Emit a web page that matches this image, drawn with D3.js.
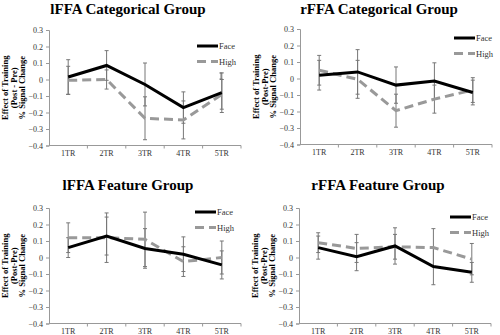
<!DOCTYPE html>
<html>
<head>
<meta charset="utf-8">
<script src="https://cdn.jsdelivr.net/npm/d3@7"></script>
<style>
  body { margin: 0; background: #fff; }
  svg, svg text { font-family: "Liberation Serif", "Times New Roman", serif; }
</style>
</head>
<body>
<svg id="chart" width="500" height="335"></svg>
<script>
var categories = ['1TR', '2TR', '3TR', '4TR', '5TR'];
var yTicks = [0.3, 0.2, 0.1, 0, -0.1, -0.2, -0.3, -0.4];

// lFFA Categorical Group
var lCatFace = [0.015, 0.085, -0.03, -0.17, -0.08];
var lCatFaceErr = [0.105, 0.09, 0.13, 0.095, 0.12];
var lCatHigh = [-0.005, 0.0, -0.235, -0.245, -0.09];
var lCatHighErr = [0.085, 0.058, 0.13, 0.115, 0.09];

// rFFA Categorical Group
var rCatFace = [0.02, 0.04, -0.04, -0.015, -0.085];
var rCatFaceErr = [0.09, 0.135, 0.11, 0.11, 0.075];
var rCatHigh = [0.05, -0.005, -0.195, -0.125, -0.07];
var rCatHighErr = [0.09, 0.115, 0.1, 0.085, 0.075];

// lFFA Feature Group
var lFeatFace = [0.06, 0.13, 0.055, 0.02, -0.045];
var lFeatFaceErr = [0.06, 0.115, 0.12, 0.105, 0.085];
var lFeatHigh = [0.12, 0.12, 0.11, -0.025, 0.0];
var lFeatHighErr = [0.09, 0.15, 0.165, 0.09, 0.1];

// rFFA Feature Group
var rFeatFace = [0.06, 0.005, 0.07, -0.055, -0.09];
var rFeatFaceErr = [0.07, 0.085, 0.11, 0.11, 0.06];
var rFeatHigh = [0.09, 0.055, 0.065, 0.06, -0.01];
var rFeatHighErr = [0.06, 0.085, 0.075, 0.115, 0.095];

var svg = d3.select('#chart');

var panels = [
  { title: 'lFFA Categorical Group', sub: '(Post - Pre)', x: 0, y: 0, top: 30, face: lCatFace, faceErr: lCatFaceErr, high: lCatHigh, highErr: lCatHighErr, legX: 197, legY: 46, errKey: true },
  { title: 'rFFA Categorical Group', sub: '(Post-Pre)', x: 251, y: 0, top: 29, face: rCatFace, faceErr: rCatFaceErr, high: rCatHigh, highErr: rCatHighErr, legX: 454, legY: 38 },
  { title: 'lFFA Feature Group', sub: '(Post-Pre)', x: 0, y: 177, top: 31, face: lFeatFace, faceErr: lFeatFaceErr, high: lFeatHigh, highErr: lFeatHighErr, legX: 195, legY: 212 },
  { title: 'rFFA Feature Group', sub: '(Post-Pre)', x: 250, y: 177, top: 31, face: rFeatFace, faceErr: rFeatFaceErr, high: rFeatHigh, highErr: rFeatHighErr, legX: 450, legY: 217 }
];

panels.forEach(drawPanel);

function drawPanel(p) {
  var g = svg.append('g').attr('transform', 'translate(' + p.x + ',' + p.y + ')');
  var left = 49, right = 241, top = p.top, bottom = top + 115.5;

  var x = d3.scaleBand().domain(categories).range([left, right]);
  var y = d3.scaleLinear().domain([-0.4, 0.3]).range([bottom, top]);

  g.append('text')
    .attr('x', 128).attr('y', p.y === 0 ? 14 : 13)
    .attr('text-anchor', 'middle')
    .style('font-size', '15px').style('font-weight', 'bold')
    .text(p.title);

  // y axis
  var yAxis = g.append('g')
    .attr('transform', 'translate(' + left + ',0)')
    .call(d3.axisLeft(y).tickValues(yTicks).tickSize(3).tickPadding(3)
      .tickFormat(function (d) { return d === 0 ? '0' : d3.format('.1f')(d); }));
  yAxis.attr('font-family', '"Liberation Serif", serif').attr('font-size', 8);
  yAxis.selectAll('text').attr('fill', '#333');
  yAxis.select('.domain').attr('stroke', '#999');
  yAxis.selectAll('.tick line').attr('stroke', '#999');

  // x axis with ticks between categories
  var xAxis = g.append('g').attr('transform', 'translate(0,' + bottom + ')');
  xAxis.append('line').attr('x1', left).attr('x2', right).attr('stroke', '#999');
  xAxis.selectAll('.sep').data(categories).enter().append('line')
    .attr('x1', function (d, i) { return left + x.step() * (i + 1); })
    .attr('x2', function (d, i) { return left + x.step() * (i + 1); })
    .attr('y1', 0).attr('y2', 3).attr('stroke', '#999');
  xAxis.selectAll('.lab').data(categories).enter().append('text')
    .attr('x', function (d) { return x(d) + x.bandwidth() / 2; })
    .attr('y', 10)
    .attr('text-anchor', 'middle')
    .style('font-size', '8px').attr('fill', '#333')
    .text(function (d) { return d; });

  // y label
  var lab = g.append('text')
    .attr('transform', 'translate(' + 16.5 + ',' + ((top + bottom) / 2) + ') rotate(-90)')
    .attr('text-anchor', 'middle')
    .style('font-size', '8.5px').style('font-weight', 'bold');
  lab.append('tspan').attr('x', 0).attr('dy', -8.5).text('Effect of Training');
  lab.append('tspan').attr('x', 0).attr('dy', 8.5).text(p.sub);
  lab.append('tspan').attr('x', 0).attr('dy', 8.5).text('% Signal Change');

  var cx = function (d, i) { return x(categories[i]) + x.bandwidth() / 2; };
  var line = d3.line().x(cx).y(function (d) { return y(d); });

  var series = [
    { vals: p.high, err: p.highErr, color: '#999', dash: '9,5' },
    { vals: p.face, err: p.faceErr, color: '#000', dash: null }
  ];

  // error bars
  series.forEach(function (s) {
    var eb = g.append('g').attr('stroke', '#777').attr('stroke-width', 1);
    s.vals.forEach(function (v, i) {
      var xx = cx(v, i);
      eb.append('line').attr('x1', xx).attr('x2', xx).attr('y1', y(v + s.err[i])).attr('y2', y(v - s.err[i]));
      [v + s.err[i], v - s.err[i]].forEach(function (e) {
        eb.append('line').attr('x1', xx - 2).attr('x2', xx + 2).attr('y1', y(e)).attr('y2', y(e));
      });
    });
  });

  series.forEach(function (s) {
    g.append('path').datum(s.vals)
      .attr('d', line)
      .attr('fill', 'none')
      .attr('stroke', s.color)
      .attr('stroke-width', 3)
      .attr('stroke-dasharray', s.dash);
  });

  // legend
  var lg = svg.append('g');
  var keys = [{ name: 'Face', color: '#000', dash: null }, { name: 'High', color: '#999', dash: '9,5' }];
  keys.forEach(function (k, i) {
    var ly = p.legY + i * 15.5;
    lg.append('line').attr('x1', p.legX).attr('x2', p.legX + 21).attr('y1', ly).attr('y2', ly)
      .attr('stroke', k.color).attr('stroke-width', 3).attr('stroke-dasharray', k.dash);
    lg.append('text').attr('x', p.legX + 22).attr('y', ly + 3)
      .style('font-size', '8.5px').attr('fill', '#333').text(k.name);
  });
  if (p.errKey) {
    var ex = p.legX + 24, ey = p.legY + 30;
    lg.append('line').attr('x1', ex).attr('x2', ex).attr('y1', ey - 3).attr('y2', ey + 3).attr('stroke', '#777');
    lg.append('line').attr('x1', ex - 1.5).attr('x2', ex + 1.5).attr('y1', ey - 3).attr('y2', ey - 3).attr('stroke', '#777');
    lg.append('line').attr('x1', ex - 1.5).attr('x2', ex + 1.5).attr('y1', ey + 3).attr('y2', ey + 3).attr('stroke', '#777');
  }
}
</script>
</body>
</html>
